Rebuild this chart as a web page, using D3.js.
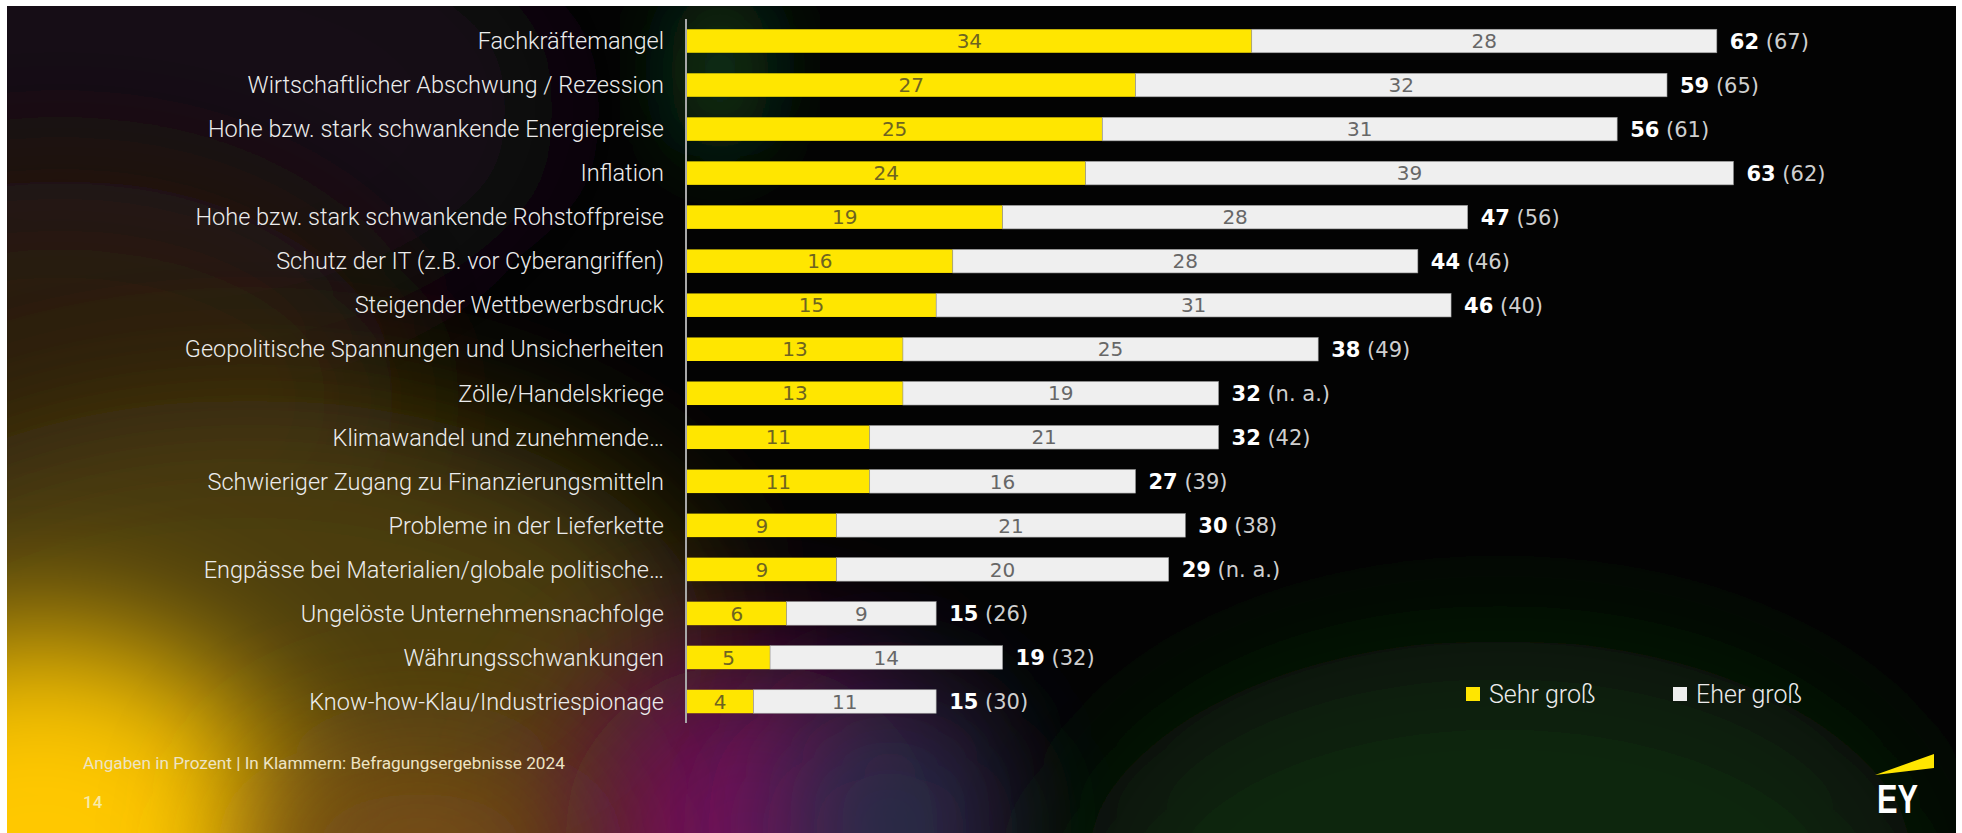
<!DOCTYPE html>
<html>
<head>
<meta charset="utf-8">
<script src="https://cdn.jsdelivr.net/npm/d3@7"></script>
<style>
  html, body { margin: 0; padding: 0; background: #ffffff; overflow: hidden; }
  svg { display: block; }
</style>
</head>
<body>
<svg id="chart" width="1962" height="833"></svg>
<script>
// Risks for companies, share of answers in percent
const categories = [
  "Fachkräftemangel",
  "Wirtschaftlicher Abschwung / Rezession",
  "Hohe bzw. stark schwankende Energiepreise",
  "Inflation",
  "Hohe bzw. stark schwankende Rohstoffpreise",
  "Schutz der IT (z.B. vor Cyberangriffen)",
  "Steigender Wettbewerbsdruck",
  "Geopolitische Spannungen und Unsicherheiten",
  "Zölle/Handelskriege",
  "Klimawandel und zunehmende…",
  "Schwieriger Zugang zu Finanzierungsmitteln",
  "Probleme in der Lieferkette",
  "Engpässe bei Materialien/globale politische…",
  "Ungelöste Unternehmensnachfolge",
  "Währungsschwankungen",
  "Know-how-Klau/Industriespionage"
];
const sehrGross = [34, 27, 25, 24, 19, 16, 15, 13, 13, 11, 11, 9, 9, 6, 5, 4];
const eherGross = [28, 32, 31, 39, 28, 28, 31, 25, 19, 21, 16, 21, 20, 9, 14, 11];
const previousYear = ["67", "65", "61", "62", "56", "46", "40", "49", "n. a.", "42", "39", "38", "n. a.", "26", "32", "30"];
const seriesNames = ["Sehr groß", "Eher groß"];
const footnote = "Angaben in Prozent | In Klammern: Befragungsergebnisse 2024";
const pageNumber = "14";

const W = 1962, H = 833;
const YELLOW = "#ffe600", LIGHT = "#efefef";
const labelFont = "Roboto, 'Noto Sans', sans-serif";
const numFont = "'DejaVu Sans', Verdana, sans-serif";

const svg = d3.select("#chart");
const defs = svg.append("defs");

// ---- backdrop -------------------------------------------------------------
defs.append("filter").attr("id", "soft").attr("x", "-50%").attr("y", "-50%")
  .attr("width", "200%").attr("height", "200%")
  .append("feGaussianBlur").attr("stdDeviation", 70);
defs.append("filter").attr("id", "softer").attr("x", "-50%").attr("y", "-50%")
  .attr("width", "200%").attr("height", "200%")
  .append("feGaussianBlur").attr("stdDeviation", 40);
defs.append("clipPath").attr("id", "panel")
  .append("rect").attr("x", 7).attr("y", 6).attr("width", W - 13).attr("height", H - 6);

const bg = svg.append("g").attr("clip-path", "url(#panel)");
bg.append("rect").attr("x", 7).attr("y", 6).attr("width", W - 13).attr("height", H - 6).attr("fill", "#030303");

const glows = [
  { cx: 140, cy: 110, rx: 420, ry: 240, fill: "#140b18", f: "soft" },
  { cx: 60, cy: 400, rx: 340, ry: 220, fill: "#2a1a0a", f: "soft" },
  { cx: 250, cy: 650, rx: 460, ry: 250, fill: "#4c3e0c", f: "soft" },
  { cx: 750, cy: 850, rx: 190, ry: 190, fill: "#74105a", f: "soft" },
  { cx: 890, cy: 830, rx: 110, ry: 130, fill: "#22324a", f: "soft" },
  { cx: 1500, cy: 880, rx: 420, ry: 240, fill: "#0b2607", f: "soft" },
  { cx: 40, cy: 860, rx: 260, ry: 230, fill: "#ffc800", f: "soft" },
  { cx: 420, cy: 860, rx: 170, ry: 120, fill: "#7a5012", f: "soft" },
  { cx: 720, cy: 70, rx: 50, ry: 90, fill: "#0b3418", f: "softer" }
];
bg.selectAll("ellipse.glow").data(glows).join("ellipse")
  .attr("class", "glow")
  .attr("cx", d => d.cx).attr("cy", d => d.cy)
  .attr("rx", d => d.rx).attr("ry", d => d.ry)
  .attr("fill", d => d.fill)
  .attr("filter", d => `url(#${d.f})`);

// ---- scales ---------------------------------------------------------------
const x = d3.scaleLinear().domain([0, 70]).range([687, 687 + 70 * 16.61]);
const y = d3.scaleBand().domain(categories).range([19, 723.5])
  .paddingInner(0.466).paddingOuter(0.233);

const rows = categories.map((c, i) => ({
  cat: c, a: sehrGross[i], b: eherGross[i], total: sehrGross[i] + eherGross[i], prev: previousYear[i]
}));

const chart = svg.append("g");

// segments
chart.selectAll("rect.sehr").data(rows).join("rect")
  .attr("class", "sehr")
  .attr("x", x(0)).attr("y", d => y(d.cat))
  .attr("width", d => x(d.a) - x(0)).attr("height", y.bandwidth())
  .attr("fill", YELLOW);
chart.selectAll("rect.eher").data(rows).join("rect")
  .attr("class", "eher")
  .attr("x", d => x(d.a)).attr("y", d => y(d.cat))
  .attr("width", d => x(d.a + d.b) - x(d.a)).attr("height", y.bandwidth())
  .attr("fill", LIGHT).attr("stroke", "#9a9a9a").attr("stroke-width", 0.6);

// in-bar values
const mid = d => y(d.cat) + y.bandwidth() / 2;
chart.selectAll("text.va").data(rows).join("text")
  .attr("class", "va")
  .attr("x", d => (x(0) + x(d.a)) / 2).attr("y", mid).attr("dy", "0.36em")
  .attr("text-anchor", "middle")
  .attr("font-family", numFont).attr("font-size", 20).attr("font-weight", 400)
  .attr("fill", "#6e6420")
  .text(d => d.a);
chart.selectAll("text.vb").data(rows).join("text")
  .attr("class", "vb")
  .attr("x", d => (x(d.a) + x(d.a + d.b)) / 2).attr("y", mid).attr("dy", "0.36em")
  .attr("text-anchor", "middle")
  .attr("font-family", numFont).attr("font-size", 20).attr("font-weight", 400)
  .attr("fill", "#676767")
  .text(d => d.b);

// totals with previous-year value in brackets
const tot = chart.selectAll("text.tot").data(rows).join("text")
  .attr("class", "tot")
  .attr("x", d => x(d.total) + 13).attr("y", mid).attr("dy", "0.36em")
  .attr("font-family", numFont).attr("font-size", 21);
tot.append("tspan").attr("font-weight", 700).attr("fill", "#ffffff").text(d => d.total);
tot.append("tspan").attr("fill", "#cfcfcf").text(d => ` (${d.prev})`);

// category axis
const axis = d3.axisLeft(y).tickSize(0).tickPadding(22);
const gAxis = chart.append("g").attr("transform", `translate(${x(0) - 1},0)`).call(axis);
gAxis.select(".domain").attr("d", `M0,19V723`).attr("stroke", "#a8a8a8").attr("stroke-width", 2);
gAxis.selectAll(".tick text")
  .attr("font-family", labelFont).attr("font-size", 23.5).attr("font-weight", 300)
  .attr("fill", "#ececec").attr("dy", "0.35em");

// legend
const legend = svg.append("g").attr("transform", "translate(1466,694)");
const li = legend.selectAll("g").data(seriesNames).join("g")
  .attr("transform", (d, i) => `translate(${i * 207},0)`);
li.append("rect").attr("x", 0).attr("y", -7).attr("width", 14).attr("height", 14)
  .attr("fill", (d, i) => i === 0 ? YELLOW : LIGHT);
li.append("text").attr("x", 23).attr("dy", "0.35em")
  .attr("font-family", labelFont).attr("font-size", 25).attr("font-weight", 300)
  .attr("fill", "#ececec").text(d => d);

// footer
svg.append("text").attr("x", 83).attr("y", 763).attr("dy", "0.35em")
  .attr("font-family", labelFont).attr("font-size", 17.2).attr("font-weight", 400)
  .attr("fill", "#eee4c4").text(footnote);
svg.append("text").attr("x", 83).attr("y", 802).attr("dy", "0.35em")
  .attr("font-family", labelFont).attr("font-size", 17).attr("font-weight", 500)
  .attr("fill", "#f6eaa8").text(pageNumber);

// logo
const logo = svg.append("g");
logo.append("polygon").attr("points", "1875,775 1934,754 1934,768").attr("fill", YELLOW);
logo.append("text").attr("x", 1877).attr("y", 813)
  .attr("font-family", "'Liberation Sans', Arial, sans-serif").attr("font-weight", 700)
  .attr("font-size", 41).attr("textLength", 41).attr("lengthAdjust", "spacingAndGlyphs")
  .attr("fill", "#ffffff").text("EY");
</script>
</body>
</html>
